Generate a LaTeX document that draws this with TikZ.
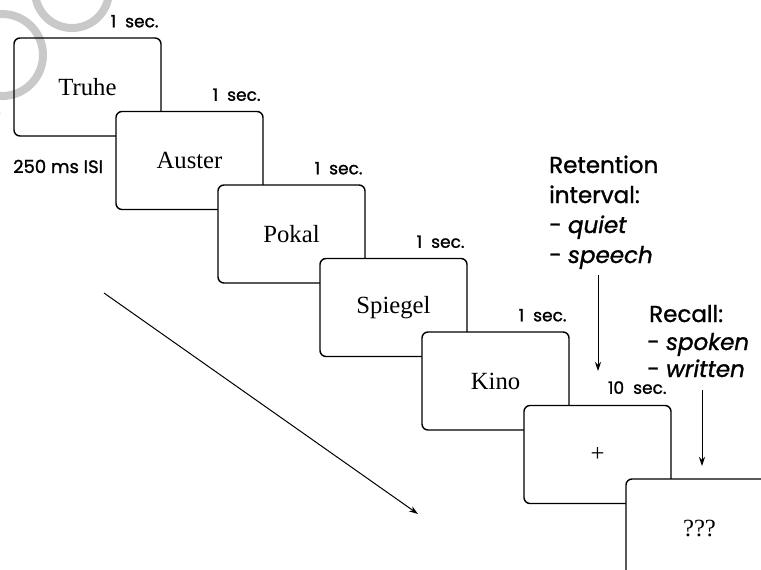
\documentclass[tikz,border=0pt]{standalone}
\usepackage{fontspec}
\setmainfont{Liberation Serif}
\setsansfont{Poppins}[FakeBold=1.2]
\newfontfamily\lblfont{Poppins}[FakeBold=1.2, WordSpace=2]
\usetikzlibrary{arrows.meta}
\begin{document}
\begin{tikzpicture}[x=1pt,y=-1pt,
  screen/.style={draw, line width=1.4pt, rounded corners=6pt, fill=white,
    minimum width=147pt, minimum height=98pt, inner sep=0pt,
    font=\fontsize{24.7}{28}\selectfont},
  timelbl/.style={anchor=base east, inner sep=0pt, font=\lblfont\fontsize{17}{18}\selectfont},
  isilbl/.style={anchor=base west, inner sep=0pt, font=\sffamily\fontsize{18}{20}\selectfont},
  biglbl/.style={anchor=base west, inner sep=0pt, font=\sffamily\fontsize{23}{28}\selectfont},
  arr/.style={line width=1pt, -{Stealth[length=9pt,width=6pt]}},
  wm/.style={draw=black, draw opacity=0.21, line width=8pt}]
\useasboundingbox (0,0) rectangle (761,570);

% screens
\node[screen] (s1) at (87.5,87)  {Truhe};
\node[screen] (s2) at (189.5,160.5) {Auster};
\node[screen] (s3) at (291.5,234) {Pokal};
\node[screen] (s4) at (393.5,307.5) {Spiegel};
\node[screen] (s5) at (495.5,381) {Kino};
\node[screen] (s6) at (597.5,454.5) {+};
\node[screen] (s7) at (699.5,528) {???};

% durations
\node[timelbl] (t1) at ([shift={(-3,-10)}]s1.north east) {1 sec.};
\node[timelbl] (t2) at ([shift={(-3,-10)}]s2.north east) {1 sec.};
\node[timelbl] (t3) at ([shift={(-3,-10)}]s3.north east) {1 sec.};
\node[timelbl] (t4) at ([shift={(-3,-10)}]s4.north east) {1 sec.};
\node[timelbl] (t5) at ([shift={(-3,-10)}]s5.north east) {1 sec.};
\node[timelbl] (t6) at ([shift={(-5,-11)}]s6.north east) {10 sec.};

\node[isilbl] (isi) at (13,173) {250 ms ISI};

% retention interval
\node[biglbl] (r1) at (549,173) {Retention};
\node[biglbl] (r2) at (549,203) {interval:};
\node[biglbl] (r3) at (549,233) {- \itshape quiet};
\node[biglbl] (r4) at (549,263) {- \itshape speech};

% recall
\node[biglbl] (c1) at (649,322) {Recall:};
\node[biglbl] (c2) at (647,350) {- \itshape spoken};
\node[biglbl] (c3) at (647,377) {- \itshape written};

% arrows
\coordinate (ra) at (598,275);
\coordinate (rb) at (598,371);
\draw[arr] (ra) -- (rb);
\coordinate (ca) at (702,390);
\coordinate (cb) at (702,466);
\draw[arr] (ca) -- (cb);
\coordinate (da) at (104,293);
\coordinate (db) at (418,514);
\draw[arr] (da) -- (db);

% watermark fragments
\begin{scope}
  \clip (0,0) rectangle (761,570);
  \draw[wm] (72,-9) circle (37pt);
  \draw[wm] (2,55) circle (41pt);
  \draw[wm] (-8,122) arc[start angle=-50, end angle=20, radius=12pt];
\end{scope}
\end{tikzpicture}
\end{document}
